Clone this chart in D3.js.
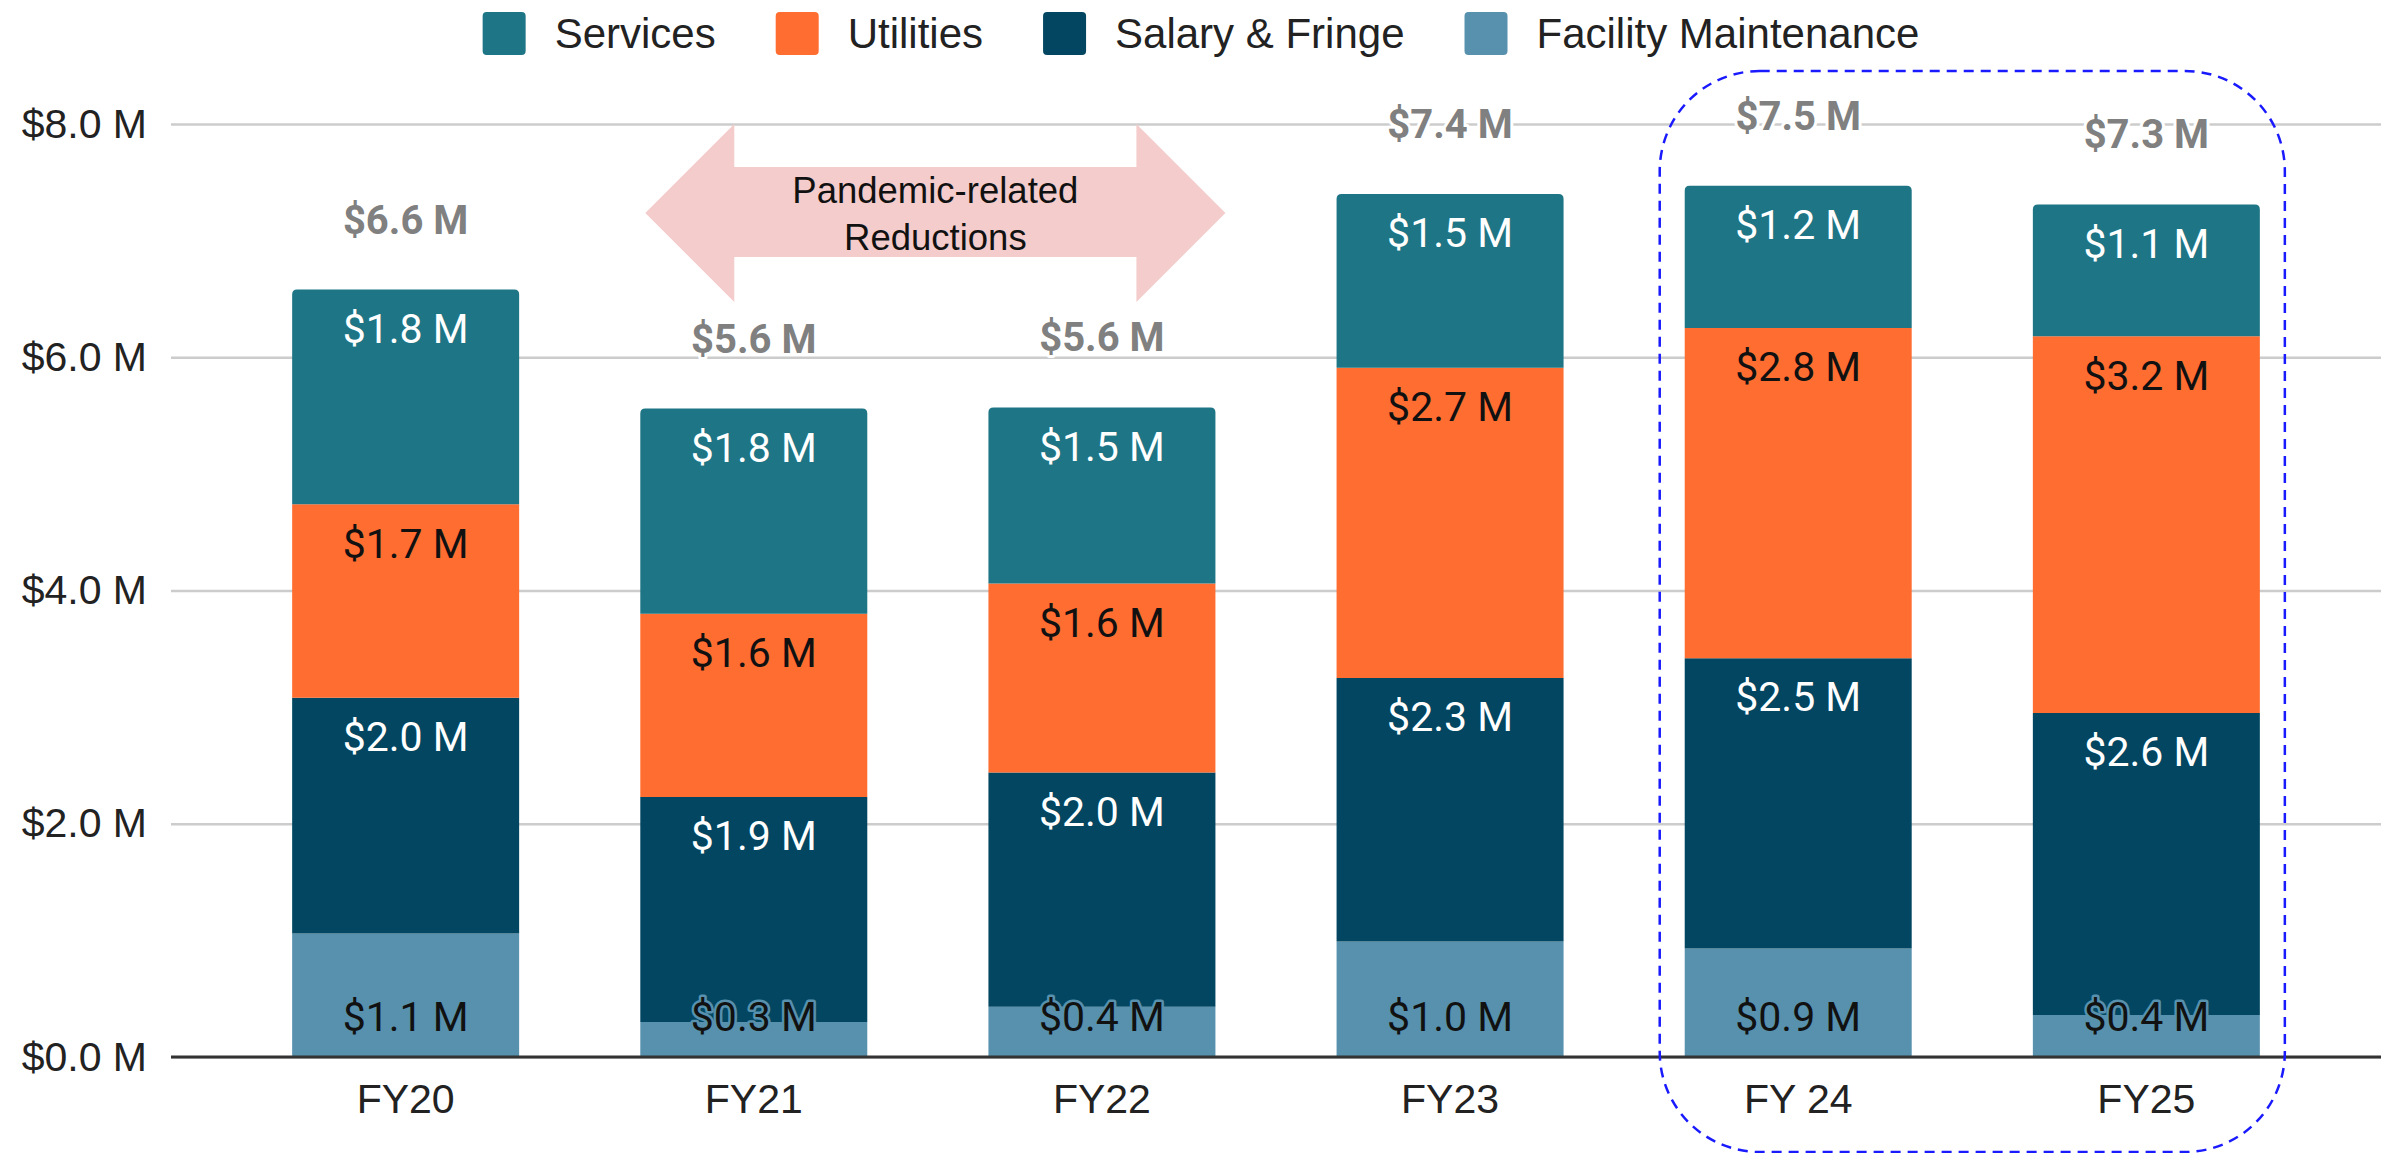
<!DOCTYPE html>
<html>
<head>
<meta charset="utf-8">
<script src="https://cdn.jsdelivr.net/npm/d3@7"></script>
<style>
  body { margin: 0; background: #fff; }
  #chart { width: 2381px; height: 1153px; }
  text { font-family: "Liberation Sans", Arial, sans-serif; }
  .segLabel { font-family: Roboto, sans-serif; font-size: 41px; paint-order: stroke; stroke-width: 5px; stroke-linejoin: round; }
  .totalLabel { font-family: Roboto, sans-serif; font-weight: bold; font-size: 40px; fill: #808080; paint-order: stroke; stroke: #fff; stroke-width: 6px; stroke-linejoin: round; }
</style>
</head>
<body>
<div id="chart"></div>
<script>
  var width = 2381;
  var height = 1153;

  var svg = d3.select("#chart")
    .append("svg")
    .attr("width", width)
    .attr("height", height);

  var margin = {
    top: 124,
    right: 0,
    bottom: 96,
    left: 171
  };

  // values in $ millions
  var categories = ["FY20", "FY21", "FY22", "FY23", "FY 24", "FY25"];
  var facility = [1.06, 0.30, 0.43, 0.99, 0.93, 0.36];
  var salary = [2.02, 1.93, 2.01, 2.26, 2.49, 2.59];
  var utilities = [1.66, 1.57, 1.62, 2.66, 2.83, 3.23];
  var services = [1.84, 1.76, 1.51, 1.49, 1.22, 1.13];
  var yTicks = [0, 2, 4, 6, 8];

  var seriesNames = ["Facility Maintenance", "Salary & Fringe", "Utilities", "Services"];
  var legendOrder = ["Services", "Utilities", "Salary & Fringe", "Facility Maintenance"];
  var colors = {
    "Services": "#1e7585",
    "Utilities": "#ff6d31",
    "Salary & Fringe": "#024661",
    "Facility Maintenance": "#5791ae"
  };
  var labelColors = {
    "Services": "#ffffff",
    "Utilities": "#111111",
    "Salary & Fringe": "#ffffff",
    "Facility Maintenance": "#111111"
  };

  var data = categories.map(function(c, i) {
    return {
      year: c,
      "Facility Maintenance": facility[i],
      "Salary & Fringe": salary[i],
      "Utilities": utilities[i],
      "Services": services[i]
    };
  });

  var stacked = d3.stack().keys(seriesNames)(data);

  var xScale = d3.scaleBand()
    .domain(categories)
    .range([margin.left, width - margin.right])
    .padding(0.348);

  var yScale = d3.scaleLinear()
    .domain([0, 8])
    .range([height - margin.bottom, margin.top]);

  // grid + y labels
  var yAxis = svg.append("g")
    .attr("transform", `translate(${margin.left},0)`)
    .call(d3.axisLeft(yScale)
      .tickValues(yTicks)
      .tickSize(-(width - margin.left - margin.right))
      .tickPadding(24)
      .tickFormat(function(d) { return "$" + d.toFixed(1) + " M"; }));
  yAxis.select(".domain").remove();
  yAxis.selectAll(".tick line")
    .attr("stroke", "#cccccc")
    .attr("stroke-width", 2.5);
  yAxis.selectAll(".tick text")
    .attr("fill", "#222")
    .style("font-size", "41px");

  // bars
  var layers = svg.selectAll("g.layer")
    .data(stacked)
    .enter()
    .append("g")
      .attr("class", "layer")
      .attr("fill", function(d) { return colors[d.key]; });

  layers.selectAll("path")
    .data(function(d) { return d.map(function(p) { return {key: d.key, p: p}; }); })
    .enter()
    .append("path")
      .attr("d", function(d) {
        var x0 = xScale(d.p.data.year);
        var w = xScale.bandwidth();
        var y0 = yScale(d.p[1]);
        var y1 = yScale(d.p[0]);
        var r = d.key == "Services" ? 5 : 0;
        return "M" + x0 + "," + y1 +
          "V" + (y0 + r) +
          "Q" + x0 + "," + y0 + " " + (x0 + r) + "," + y0 +
          "H" + (x0 + w - r) +
          "Q" + (x0 + w) + "," + y0 + " " + (x0 + w) + "," + (y0 + r) +
          "V" + y1 + "Z";
      });

  // baseline
  svg.append("line")
    .attr("x1", margin.left)
    .attr("x2", width - margin.right)
    .attr("y1", yScale(0))
    .attr("y2", yScale(0))
    .attr("stroke", "#333")
    .attr("stroke-width", 3);

  // x labels
  var xAxis = svg.append("g")
    .attr("transform", `translate(0,${yScale(0)})`)
    .call(d3.axisBottom(xScale).tickSize(0).tickPadding(27));
  xAxis.select(".domain").remove();
  xAxis.selectAll(".tick text")
    .attr("fill", "#222")
    .style("font-size", "41px");

  // segment labels, drawn after all bars so small ones stay on top
  var labelData = [];
  stacked.forEach(function(s) {
    s.forEach(function(p) { labelData.push({key: s.key, p: p}); });
  });

  svg.append("g").selectAll("text")
    .data(labelData)
    .enter()
    .append("text")
      .attr("class", "segLabel")
      .attr("x", function(d) { return xScale(d.p.data.year) + xScale.bandwidth() / 2; })
      .attr("y", function(d) {
        if (d.key == "Facility Maintenance") return yScale(0) - 40;
        return yScale(d.p[1]) + 39;
      })
      .attr("dy", "0.35em")
      .attr("text-anchor", "middle")
      .attr("fill", function(d) { return labelColors[d.key]; })
      .attr("stroke", function(d) { return colors[d.key]; })
      .text(function(d) { return "$" + (d.p[1] - d.p[0]).toFixed(1) + " M"; });

  // totals
  var topLayer = stacked[stacked.length - 1];
  svg.append("g").selectAll("text")
    .data(topLayer)
    .enter()
    .append("text")
      .attr("class", "totalLabel")
      .attr("x", function(d) { return xScale(d.data.year) + xScale.bandwidth() / 2; })
      .attr("y", function(d) { return yScale(d[1]) - 70; })
      .attr("dy", "0.35em")
      .attr("text-anchor", "middle")
      .text(function(d) { return "$" + d[1].toFixed(1) + " M"; });

  // pandemic arrow
  var ax0 = xScale("FY21") + 5;
  var ax1 = xScale("FY22") + xScale.bandwidth() + 10;
  var ay = yScale(8);
  var head = 89;
  svg.append("path")
    .attr("d", "M" + ax0 + "," + (ay + 89) +
      "L" + (ax0 + head) + "," + ay +
      "V" + (ay + 43) +
      "H" + (ax1 - head) +
      "V" + ay +
      "L" + ax1 + "," + (ay + 89) +
      "L" + (ax1 - head) + "," + (ay + 178) +
      "V" + (ay + 133) +
      "H" + (ax0 + head) +
      "V" + (ay + 178) + "Z")
    .attr("fill", "#f4cccc");

  var arrowText = svg.append("text")
    .attr("x", (ax0 + ax1) / 2)
    .attr("y", ay + 66)
    .attr("text-anchor", "middle")
    .attr("fill", "#111")
    .style("font-size", "36.5px");
  arrowText.append("tspan").attr("x", (ax0 + ax1) / 2).attr("dy", "0.35em").text("Pandemic-related");
  arrowText.append("tspan").attr("x", (ax0 + ax1) / 2).attr("dy", "1.3em").text("Reductions");

  // legend
  var legend = svg.append("g");
  var lx = 0;
  legendOrder.forEach(function(k) {
    var item = legend.append("g").attr("transform", `translate(${lx},0)`);
    item.append("rect")
      .attr("x", 0)
      .attr("y", 12)
      .attr("width", 43)
      .attr("height", 43)
      .attr("rx", 4)
      .attr("fill", colors[k]);
    var t = item.append("text")
      .attr("x", 72)
      .attr("y", 33)
      .attr("dy", "0.35em")
      .attr("fill", "#222")
      .style("font-size", "42px")
      .text(k);
    lx += 72 + t.node().getComputedTextLength() + 60;
  });
  var legendW = lx - 60;
  legend.attr("transform", `translate(${1201 - legendW / 2},0)`);

  // highlight box round the last two years
  var bx0 = xScale("FY 24") - 25;
  var bx1 = xScale("FY25") + xScale.bandwidth() + 25;
  svg.append("rect")
    .attr("x", bx0)
    .attr("y", yScale(8) - 53)
    .attr("width", bx1 - bx0)
    .attr("height", yScale(0) + 95 - (yScale(8) - 53))
    .attr("rx", 100)
    .attr("fill", "none")
    .attr("stroke", "#1a1aff")
    .attr("stroke-width", 2.5)
    .attr("stroke-dasharray", "10,7");
</script>
</body>
</html>
